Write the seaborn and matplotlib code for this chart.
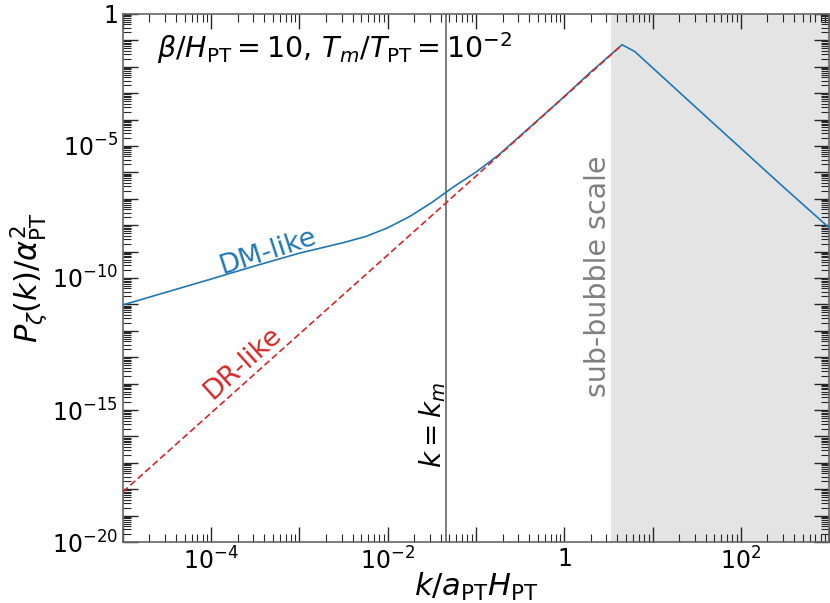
import numpy as np
import pandas as pd
import matplotlib
matplotlib.use('Agg')
import matplotlib.pyplot as plt
import matplotlib.ticker as mticker
import seaborn as sns

# values (log10 k, log10 P)
dm_logk = [-5.0, -4.0, -3.5, -3.0, -2.75, -2.5, -2.25, -2.0, -1.75, -1.5, -1.25, -1.0, -0.75,
           -0.5, 0.0, 0.3, 0.655, 0.80, 1.5, 2.0, 2.5, 3.0]
dm_logp = [-11.02, -10.04, -9.54, -9.06, -8.86, -8.66, -8.43, -8.10, -7.67, -7.14, -6.54, -5.99, -5.36,
           -4.62, -3.13, -2.20, -1.17, -1.43, -3.57, -5.09, -6.61, -8.10]
dr_logk = [-5.0, -3.0, -1.0, 0.655]
dr_logp = [-18.10, -12.12, -6.14, -1.17]

k_m = 0.046
k_sub = 3.4
xlim = (1e-5, 1e3)
ylim = (1e-20, 1)

dm = pd.DataFrame({'k': np.power(10.0, dm_logk), 'P': np.power(10.0, dm_logp)})
dr = pd.DataFrame({'k': np.power(10.0, dr_logk), 'P': np.power(10.0, dr_logp)})

fig = plt.figure(figsize=(8.3, 6.03), dpi=100)
ax = fig.add_axes([0.148, 0.101, 0.851, 0.876])
ax.set_xscale('log')
ax.set_yscale('log')

ax.axvspan(k_sub, xlim[1], color='#e4e4e4', lw=0, zorder=0)
ax.axvline(k_m, color='0.4', lw=1.2, zorder=1)

sns.lineplot(data=dm, x='k', y='P', ax=ax, color='#1f77b4', lw=1.2,
             sort=False, estimator=None, zorder=3)
sns.lineplot(data=dr, x='k', y='P', ax=ax, color='#d62728', lw=1.2,
             ls=(0, (4, 2)), sort=False, estimator=None, zorder=4)

ax.set_xlim(*xlim)
ax.set_ylim(*ylim)


def fmt(v, pos, step):
    e = int(round(np.log10(v)))
    if e % step:
        return ''
    return '$1$' if e == 0 else '$10^{%d}$' % e


ax.xaxis.set_major_locator(mticker.LogLocator(base=10, numticks=20))
ax.yaxis.set_major_locator(mticker.LogLocator(base=10, numticks=30))
ax.xaxis.set_major_formatter(mticker.FuncFormatter(lambda v, p: fmt(v, p, 2)))
ax.yaxis.set_major_formatter(mticker.FuncFormatter(lambda v, p: fmt(v, p, 5)))
for axis in (ax.xaxis, ax.yaxis):
    axis.set_minor_locator(mticker.LogLocator(base=10, subs=np.arange(2, 10), numticks=30))
    axis.set_minor_formatter(mticker.NullFormatter())

ax.tick_params(which='both', direction='in', top=True, right=True, labelsize=17, color='0.15')
ax.tick_params(which='major', length=11, width=1.0)
ax.tick_params(which='minor', length=6, width=0.8)
for s in ax.spines.values():
    s.set_color('0.4')
    s.set_linewidth(1.2)

ax.set_xlabel(r'$k/a_{\rm PT}H_{\rm PT}$', fontsize=22, labelpad=-2)
ax.set_ylabel(r'$P_\zeta(k)/\alpha_{\rm PT}^2$', fontsize=22, labelpad=2)

ax.text(0.048, 0.935, r'$\beta/H_{\rm PT}=10,\,T_m/T_{\rm PT}=10^{-2}$',
        transform=ax.transAxes, fontsize=20.5, va='center', ha='left')
ax.text(0.205, 0.55, 'DM-like', transform=ax.transAxes, color='#1f77b4',
        fontsize=19.5, rotation=18, ha='center', va='center')
ax.text(0.17, 0.339, 'DR-like', transform=ax.transAxes, color='#d62728',
        fontsize=19.5, rotation=42, ha='center', va='center')
ax.text(0.439, 0.222, r'$k=k_m$', transform=ax.transAxes, color='black',
        fontsize=20, rotation=90, ha='center', va='center')
ax.text(0.673, 0.504, 'sub-bubble scale', transform=ax.transAxes, color='0.5',
        fontsize=20.5, rotation=90, ha='center', va='center')

fig.savefig('out.png', dpi=100)
